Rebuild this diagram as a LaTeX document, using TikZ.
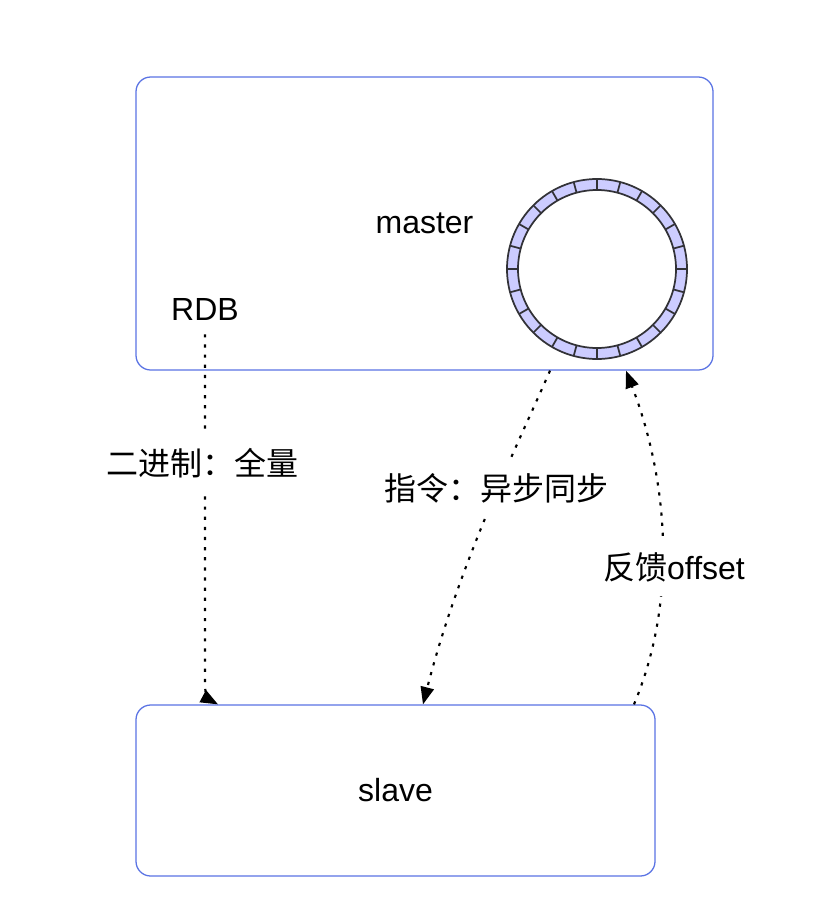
\documentclass[tikz,border=0pt]{standalone}
\usepackage{fontspec}
\setmainfont{Liberation Sans}
\newfontfamily\cjk{Noto Sans CJK SC}
\usetikzlibrary{arrows.meta,calc}
\definecolor{boxblue}{RGB}{90,115,228}
\definecolor{ringfill}{RGB}{204,204,255}
\definecolor{ringline}{RGB}{50,50,55}
\begin{document}
\begin{tikzpicture}[x=0.75pt,y=-0.75pt,
  box/.style={draw=boxblue,line width=0.95pt,rounded corners=11pt,fill=white,
    font=\fontsize{24}{28}\selectfont},
  txt/.style={font=\fontsize{24}{28}\selectfont,inner sep=0pt},
  lbl/.style={font=\fontsize{24}{28}\selectfont,fill=white,inner xsep=2pt,inner ysep=11pt},
  flow/.style={draw=black,line width=1.6pt,dash pattern=on 2.4pt off 5.2pt,
    -{Triangle[length=13pt,width=10pt]}},
  ringst/.style={draw=ringline,line width=1.3pt}]
\useasboundingbox (0,0) rectangle (820,910);
\fill[white] (0,0) rectangle (820,910);

% boxes
\node[box,minimum width=432.75pt,minimum height=219.75pt] (master) at (424.5,223.5) {master};
\node[box,minimum width=389.25pt,minimum height=128.25pt] (slave) at (395.5,790.5) {slave};

% ring buffer
\node[circle,minimum size=135pt,inner sep=0pt] (ring) at (597,269) {};
\fill[ringfill,even odd rule] (ring.center) circle[radius=67.5pt] (ring.center) circle[radius=59.25pt];
\draw[ringst] (ring.center) circle[radius=67.5pt];
\draw[ringst] (ring.center) circle[radius=59.25pt];
\foreach \a in {0,15,...,345}
  \draw[ringst] ($(ring.center)+(\a:59.25pt)$) -- ($(ring.center)+(\a:67.5pt)$);

% RDB label
\node[txt] (rdb) at (205,309) {RDB};

% connectors
\draw[flow] ($(rdb.south)+(0,14)$) -- (205,684) .. controls (205,694) and (208,699) .. (218,0 |- slave.north);
\draw[flow] (550,0 |- master.south) .. controls (520,440) and (460,560) .. (423,0 |- slave.north);
\draw[flow] (634,0 |- slave.north) .. controls (678,600) and (668,480) .. (626,0 |- master.south);

% connector labels
\node[lbl] (l1) at (202,463) {\cjk 二进制：全量};
\node[lbl] (l2) at (496,488) {\cjk 指令：异步同步};
\node[lbl] (l3) at (674,567) {{\cjk 反馈}offset};
\end{tikzpicture}
\end{document}
